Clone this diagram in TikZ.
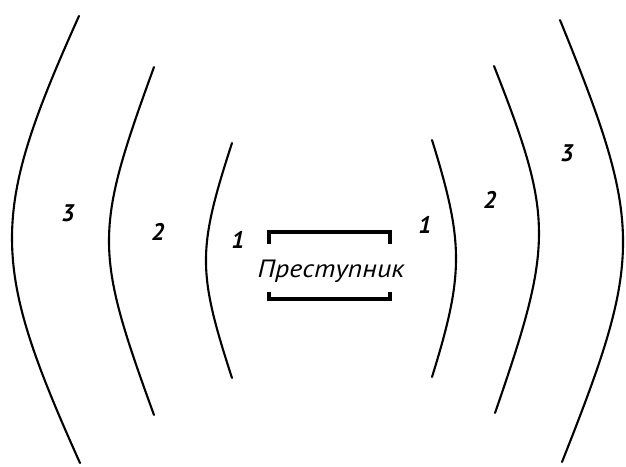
\documentclass[tikz,border=0pt]{standalone}
\usepackage{fontspec}
\newfontfamily\handfont{PT Sans}
\begin{document}
\begin{tikzpicture}[x=1pt,y=-1pt,
  wave/.style={line width=2.1pt, line cap=round},
  bracket/.style={line width=3.8pt, line cap=rect},
  num/.style={font=\handfont\bfseries\itshape\fontsize{24}{24}\selectfont, inner sep=0pt},
  crim/.style={font=\handfont\itshape\fontsize{25}{25}\selectfont, inner sep=0pt}]
\useasboundingbox (0,0) rectangle (626,466);
% left waves
\draw[wave] (79,16) .. controls (-10.5,215) and (-10.5,262) .. (80,463);
\draw[wave] (154,67) .. controls (94,232) and (94,250) .. (154,415);
\draw[wave] (232,143) .. controls (197.3,250) and (197.3,271) .. (232,378);
% right waves
\draw[wave] (432,140) .. controls (464,243) and (464,274) .. (432,377);
\draw[wave] (494,66) .. controls (553.8,218) and (553.8,243) .. (495,413);
\draw[wave] (560,20) .. controls (643.7,226) and (643.7,256) .. (562,462);
% labels
\node[num] (l3) at (68,213) {3};
\node[num] (l2) at (158,232) {2};
\node[num] (l1) at (238,240) {1};
\node[num] (r1) at (425,225) {1};
\node[num] (r2) at (490,200) {2};
\node[num] (r3) at (567,153) {3};
% criminal
\node[crim] (p) at (331,271) {\scalebox{1.12}[1]{Преступник}};
\draw[bracket] (269,242) -- (269,232) -- (390,232) -- (390,242);
\draw[bracket] (269,294) -- (269,299) -- (390,299) -- (390,294);
\end{tikzpicture}
\end{document}
